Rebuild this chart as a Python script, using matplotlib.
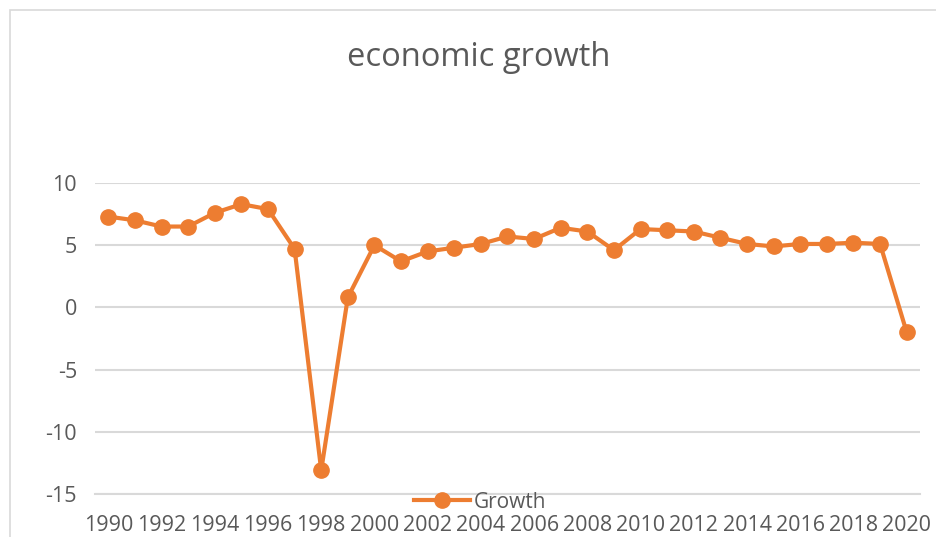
import matplotlib.pyplot as plt
from matplotlib.patches import Rectangle

# Crecimiento económico anual (%)
years = list(range(1990, 2021))
growth = [7.3, 7.0, 6.5, 6.5, 7.6, 8.3, 7.9, 4.7, -13.1, 0.8,
          5.0, 3.7, 4.5, 4.8, 5.1, 5.7, 5.5, 6.4, 6.1, 4.6,
          6.3, 6.2, 6.1, 5.6, 5.1, 4.9, 5.1, 5.1, 5.2, 5.1,
          -2.0]
tick_years = list(range(1990, 2021, 2))
yticks = [-15, -10, -5, 0, 5, 10]

color = '#ED7D31'
text_color = '#595959'
grid_color = '#D9D9D9'

plt.rcParams['font.family'] = ['Open Sans', 'DejaVu Sans']

fig = plt.figure(figsize=(9.37, 5.37), dpi=100)

# marco del gráfico
fig.patches.append(Rectangle((10 / 937, -0.1), 1.2, 1 - 10 / 537 + 0.1,
                             transform=fig.transFigure, fill=False,
                             edgecolor=grid_color, linewidth=1.2, zorder=0))

ax = fig.add_axes([95 / 937, 1 - 494 / 537, 825 / 937, (494 - 183) / 537])

x = list(range(len(years)))
ax.plot(x, growth, color=color, linewidth=3, marker='o', markersize=11,
        label='Growth', solid_joinstyle='round', zorder=3)

ax.set_xlim(-0.5, len(years) - 0.5)
ax.set_ylim(-15, 10)
ax.set_yticks(yticks)
ax.set_yticklabels([str(v) for v in yticks])
ax.set_xticks([years.index(y) for y in tick_years])
ax.set_xticklabels([str(y) for y in tick_years])

ax.grid(axis='y', color=grid_color, linewidth=1.5)
ax.set_axisbelow(True)
for side in ['top', 'right', 'left']:
    ax.spines[side].set_visible(False)
ax.spines['bottom'].set_color(grid_color)
ax.spines['bottom'].set_linewidth(1.5)

ax.tick_params(axis='both', length=0, labelcolor=text_color)
ax.tick_params(axis='y', pad=13, labelsize=15.5)
ax.tick_params(axis='x', pad=15, labelsize=15.5)

fig.text(479 / 937, 1 - 57 / 537, 'economic growth', ha='center', va='center',
         fontsize=23.5, color=text_color)

fig.legend(loc='center', bbox_to_anchor=(480 / 937, 1 - 502 / 537), frameon=False,
           fontsize=15, labelcolor=text_color, handlelength=2.7, handletextpad=0.2,
           borderpad=0)

fig.savefig('out.png', dpi=100)
